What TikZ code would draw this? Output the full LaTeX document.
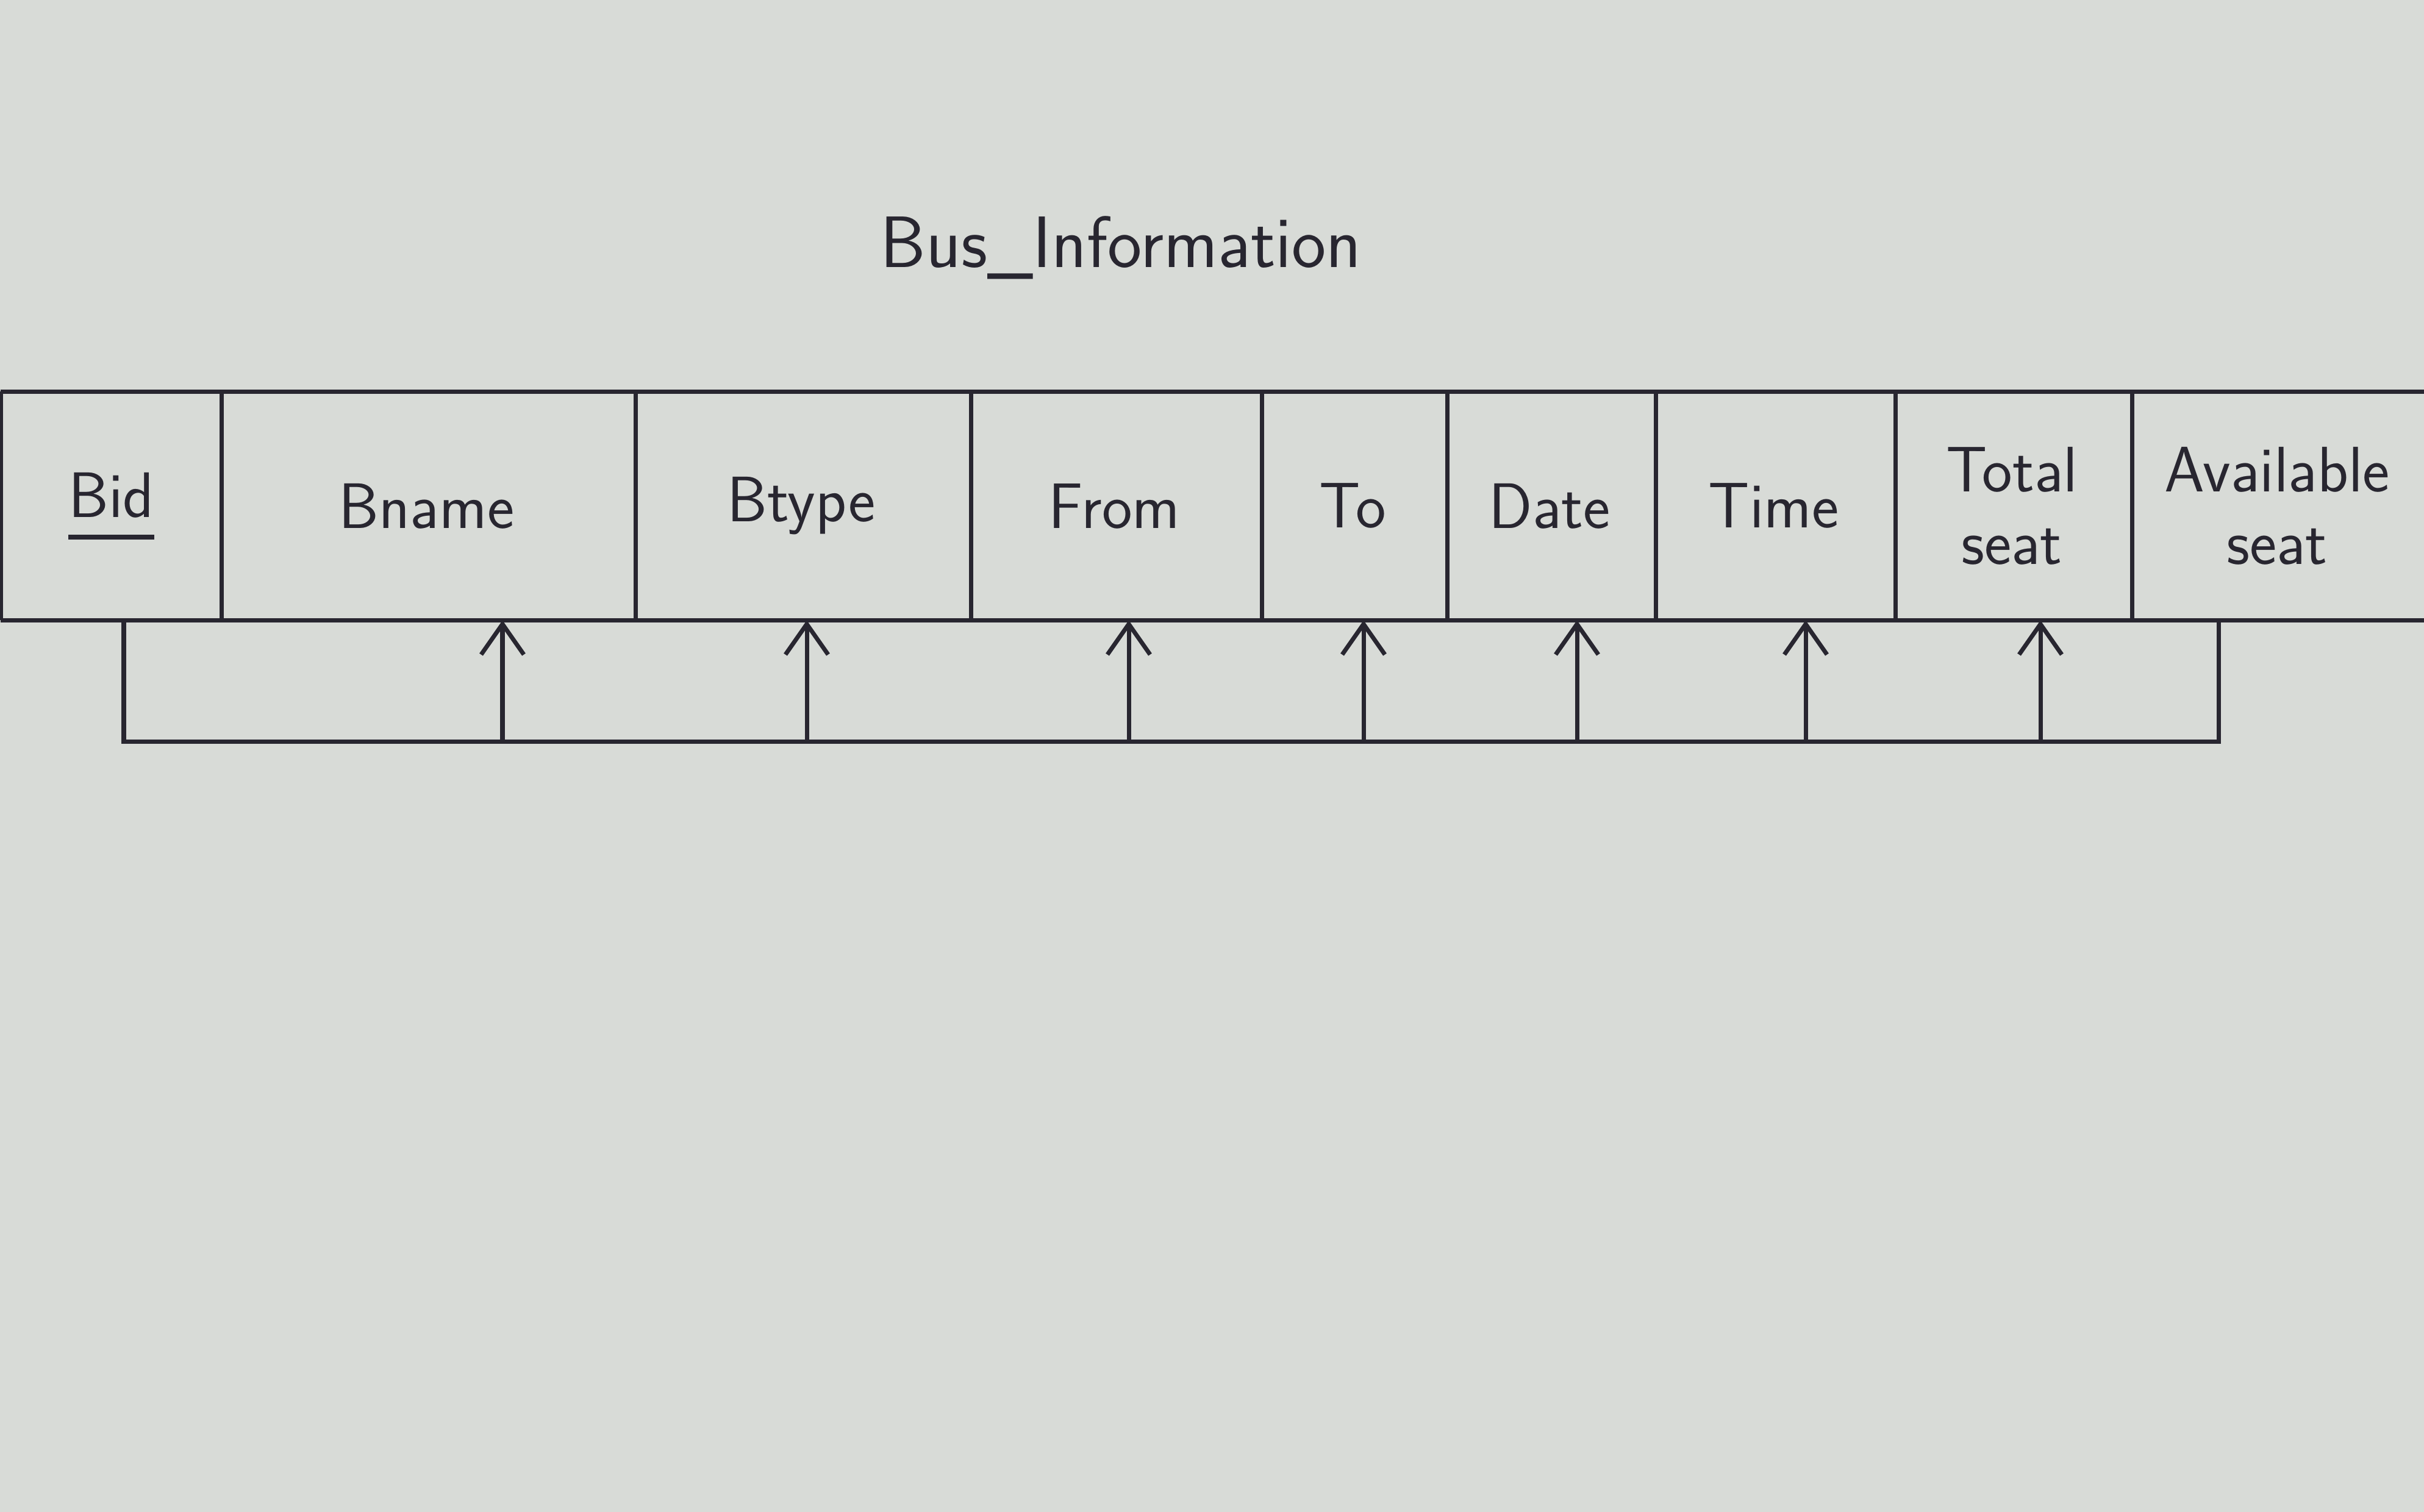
\documentclass[tikz,border=0pt]{standalone}
\usepackage{xcolor}
\usepackage{tikz}
\usetikzlibrary{arrows.meta}
\definecolor{paper}{RGB}{216,219,215}
\definecolor{ink}{RGB}{40,38,48}
\newcommand{\keyline}[1]{\leavevmode\vtop{\hbox{#1}\kern8pt\hrule height 2.2pt}}
\tikzset{cell/.style={rectangle, inner sep=0pt, minimum height=3.68cm,
		align=center, font=\sffamily\fontsize{30}{34}\selectfont, text=ink},
	title/.style={font=\sffamily\fontsize{34}{40}\selectfont, text=ink}}

\begin{document}
\begin{tikzpicture}[
			> = {Straight Barb[length=5mm, width=7mm, line width=2pt]}, % arrow head style
			line width = 2pt, % pen line
			draw = ink,
		]
		\fill[paper] (0,0) rectangle (39.75,24.8);
		\useasboundingbox (0,0) rectangle (39.75,24.8);
		\node[title] (name) at (18.38,20.74){Bus\_Information};
		% attribute cells
		\node[cell, minimum width=3.55cm] (bid) at (1.825,16.5){\keyline{Bid}};
		\node[cell, minimum width=6.79cm] (bname) at (6.995,16.5){Bname};
		\node[cell, minimum width=5.50cm] (btype) at (13.14,16.5){Btype};
		\node[cell, minimum width=4.77cm] (from) at (18.275,16.5){From};
		\node[cell, minimum width=3.04cm] (to) at (22.18,16.5){To};
		\node[cell, minimum width=3.42cm] (date) at (25.41,16.5){Date};
		\node[cell, minimum width=3.93cm] (time) at (29.085,16.5){Time};
		\node[cell, minimum width=3.88cm] (total) at (32.99,16.5){Total\\seat};
		\node[cell, minimum width=4.82cm] (avail) at (37.34,16.5){Available\\seat};
		\draw[ink] (bid.north west) -- (avail.north east);
		\draw[ink] (bid.south west) -- (avail.south east);
		\draw[ink] (bid.north west) -- (bid.south west);
		\foreach \c in {bid, bname, btype, from, to, date, time, total}
			\draw[ink] (\c.north east) -- (\c.south east);
		% dependency line
		\coordinate (kbid) at (2.03,12.63);
		\coordinate (kbname) at (8.24,12.63);
		\coordinate (kbtype) at (13.23,12.63);
		\coordinate (kfrom) at (18.51,12.63);
		\coordinate (kto) at (22.36,12.63);
		\coordinate (kdate) at (25.86,12.63);
		\coordinate (ktime) at (29.61,12.63);
		\coordinate (ktotal) at (33.46,12.63);
		\coordinate (kavail) at (36.38,12.63);
		\draw[ink] (kbid |- bid.south) -- (kbid) -- (kavail) -- (kavail |- avail.south);
		\foreach \c in {bname, btype, from, to, date, time, total}
			\draw[ink, ->] (k\c) -- (k\c |- \c.south);
		\end{tikzpicture}
\end{document}
